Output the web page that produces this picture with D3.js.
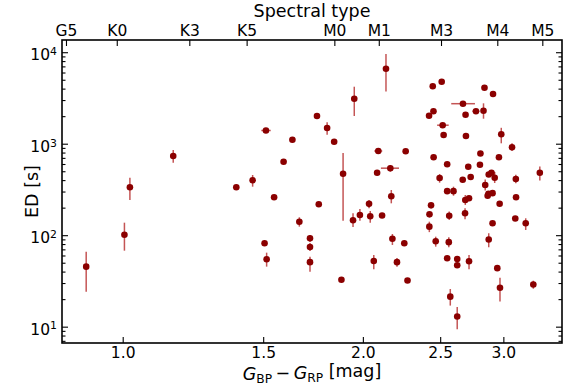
<!DOCTYPE html>
<html><head><meta charset="utf-8">
<script src="https://cdn.jsdelivr.net/npm/d3@7"></script>
<style>body{margin:0;background:#fff} svg{display:block} text{font-family:"DejaVu Sans",sans-serif}</style>
</head><body><svg id="c" width="563" height="389"></svg>
<script>
// Gaia colour BP-RP [mag]
const bpRp=[0.900,1.005,1.021,1.157,1.388,1.455,1.506,1.515,1.512,1.548,1.591,1.632,1.665,1.717,1.717,1.717,1.752,1.761,1.804,1.841,
1.880,1.889,1.944,1.951,1.983,2.036,2.043,2.064,2.084,2.091,2.114,2.138,2.165,2.171,2.178,2.207,2.254,2.263,2.275,
2.447,2.511,2.841,2.912,2.670,2.452,2.421,2.690,2.772,2.833,2.518,2.525,2.693,2.982,3.076,2.453,2.808,2.962,2.551,2.711,2.804,
2.496,2.668,2.730,2.899,2.876,2.926,3.110,3.333,2.847,2.551,2.598,2.867,2.874,2.908,2.688,2.717,3.112,2.968,2.435,2.424,
2.566,2.686,3.105,2.423,3.200,2.908,2.468,2.563,2.876,2.551,2.626,2.626,2.717,2.948,2.971,3.271,2.574,2.626];
// Equivalent duration [s]
const ed=[45.3,101,334,734,334,398,81.6,54.5,1394,260,636,1103,140.5,92.5,74.3,50.7,2008,218,1484,1052,
32.6,470,145.5,3103,166,220,161,52.2,482,832,164,6602,540,266,91.3,50.7,81.6,826,32.0,
4240,4760,4093,3493,2737,2266,2023,2075,2266,2290,1593,1245,1214,1267,913,712,781,712,597,559,588,
422,404,433,482,460,425,411,482,354,303,303,270,284,288,242.5,253,260,221,212,169,
163,174,152,124,135,135,85.8,83.9,89.7,55.9,55.0,46.9,51.8,43.6,26.6,28.9,21.3,12.9];
const edLo=[24.1,67.7,242,620,null,339,null,45.3,1330,null,null,null,124,84.3,67.2,39.9,null,null,1254,null,
null,144,123,2008,144,197,137,42.4,null,790,null,3720,494,223,78.2,45.3,null,null,null,
null,null,null,null,2600,null,null,null,null,1876,null,null,null,1010,832,null,null,null,null,null,null,
375,null,null,null,null,372,369,396,308,null,270,null,null,null,214,null,null,null,null,null,
147,149,null,108,114,null,74.9,73.8,73.8,null,null,null,42.4,null,18.8,26.0,17.0,9.37];
const edHi=[66.0,137,425,853,null,455,null,64.4,1460,null,null,null,157,100.5,82.2,58.2,null,null,1713,null,
null,791,173.5,4198,193,242.5,184,60.8,null,880,null,9557,585,312,103,56.3,null,null,null,
null,null,null,null,2880,null,null,null,null,2763,null,null,null,1492,1010,null,null,null,null,null,null,
466,null,null,null,null,491,458,563,406,null,339,null,null,null,275,null,null,null,null,null,
181,197,null,140.5,153,null,96.3,94.9,105,null,null,null,60.8,null,34.3,31.8,25.8,16.4];
const bpLo=[null,null,null,1.148,null,null,null,null,1.492,null,null,null,null,null,null,null,1.737,null,null,null,
null,null,null,null,null,null,null,null,null,2.067,null,null,2.107,null,null,null,null,null,null,
null,null,null,null,2.581,null,null,null,2.744,null,2.478,null,null,null,null,null,null,null,null,null,null,
null,null,null,null,null,null,null,null,null,null,null,null,null,null,null,null,null,null,null,null,
null,null,null,null,null,null,null,null,null,null,null,null,null,null,null,null,null,null];
const bpHi=[null,null,null,1.166,null,null,null,null,1.533,null,null,null,null,null,null,null,1.767,null,null,null,
null,null,null,null,null,null,null,null,null,2.115,null,null,2.220,null,null,null,null,null,null,
null,null,null,null,2.764,null,null,null,2.800,null,2.562,null,null,null,null,null,null,null,null,null,null,
null,null,null,null,null,null,null,null,null,null,null,null,null,null,null,null,null,null,null,null,
null,null,null,null,null,null,null,null,null,null,null,null,null,null,null,null,null,null];

const xTicks=[1.0,1.5,2.0,2.5,3.0];
const yTicks=[10,100,1000,10000];
const specTypes=["G5","K0","K3","K5","M0","M1","M3","M4","M5"];
const specColors=[0.849,0.983,1.212,1.430,1.842,2.094,2.506,2.948,3.357];

const L=62,R=562,T=40,B=343;
const svg=d3.select("#c");
const x=d3.scaleLog().domain([0.8393,3.5533]).range([L,R]);
const y=d3.scaleLog().domain([6.63,13600]).range([B,T]);

const tickFont=15.5, labFont=17.5;
const minors=[];
for(let e=0;e<5;e++){for(let m=2;m<=9;m++){const v=m*Math.pow(10,e); if(v>=y.domain()[0]&&v<=y.domain()[1]) minors.push(v);}}

function styleAxis(g){g.select(".domain").remove(); g.selectAll(".tick line").attr("stroke","#000").attr("stroke-width",1.1);
  g.selectAll("text").attr("font-size",tickFont).attr("fill","#000").attr("font-family","DejaVu Sans");}

// bottom
const gb=svg.append("g").attr("transform",`translate(0,${B})`)
 .call(d3.axisBottom(x).tickValues(xTicks).tickFormat(d3.format(".1f")).tickSizeInner(-6).tickSizeOuter(0).tickPadding(3.5));
styleAxis(gb);
// top
const gt=svg.append("g").attr("transform",`translate(0,${T})`)
 .call(d3.axisTop(x).tickValues(specColors).tickFormat((d,i)=>specTypes[i]).tickSizeInner(-6).tickSizeOuter(0).tickPadding(4));
styleAxis(gt);
// left major
const gl=svg.append("g").attr("transform",`translate(${L},0)`)
 .call(d3.axisLeft(y).tickValues(yTicks).tickSizeInner(-6).tickSizeOuter(0).tickPadding(5));
styleAxis(gl);
gl.selectAll(".tick text").each(function(d){const t=d3.select(this); t.text(null).attr("dy","0.5em");
  t.append("tspan").text("10"); t.append("tspan").attr("dy","-0.5em").attr("font-size","0.7em").text(Math.round(Math.log10(d)));});
const glm=svg.append("g").attr("transform",`translate(${L},0)`)
 .call(d3.axisLeft(y).tickValues(minors).tickFormat("").tickSizeInner(-3.5).tickSizeOuter(0));
styleAxis(glm);
const gr=svg.append("g").attr("transform",`translate(${R},0)`)
 .call(d3.axisRight(y).tickValues(yTicks).tickFormat("").tickSizeInner(-6).tickSizeOuter(0));
styleAxis(gr);
const grm=svg.append("g").attr("transform",`translate(${R},0)`)
 .call(d3.axisRight(y).tickValues(minors).tickFormat("").tickSizeInner(-3.5).tickSizeOuter(0));
styleAxis(grm);

// frame
svg.append("rect").attr("x",L).attr("y",T).attr("width",R-L).attr("height",B-T).attr("fill","none").attr("stroke","#000").attr("stroke-width",1.6);

// data
const idx=d3.range(bpRp.length);
const plot=svg.append("g");
const errColor="#b01c1c";
plot.selectAll("line.ey").data(idx.filter(i=>edLo[i]!=null)).join("line").attr("class","ey")
 .attr("x1",i=>x(bpRp[i])).attr("x2",i=>x(bpRp[i])).attr("y1",i=>y(edLo[i])).attr("y2",i=>y(edHi[i]))
 .attr("stroke",errColor).attr("stroke-opacity",0.75).attr("stroke-width",1.5);
plot.selectAll("line.ex").data(idx.filter(i=>bpLo[i]!=null)).join("line").attr("class","ex")
 .attr("x1",i=>x(bpLo[i])).attr("x2",i=>x(bpHi[i])).attr("y1",i=>y(ed[i])).attr("y2",i=>y(ed[i]))
 .attr("stroke",errColor).attr("stroke-opacity",0.75).attr("stroke-width",1.5);
plot.selectAll("circle").data(idx).join("circle")
 .attr("cx",i=>x(bpRp[i])).attr("cy",i=>y(ed[i])).attr("r",3.3).attr("fill","#8b0000");

// labels
svg.append("text").attr("x",(L+R)/2).attr("y",17).attr("text-anchor","middle").attr("font-size",labFont).text("Spectral type");
svg.append("text").attr("transform",`translate(38,${(T+B)/2}) rotate(-90)`).attr("text-anchor","middle").attr("font-size",labFont).text("ED [s]");
const xl=svg.append("text").attr("x",(L+R)/2).attr("y",380).attr("text-anchor","middle").attr("font-size",labFont);
xl.append("tspan").attr("font-style","italic").text("G");
xl.append("tspan").attr("font-size","0.7em").attr("dy","0.25em").text("BP");
xl.append("tspan").attr("dy","-0.25em").text("\u2009\u2212\u2009");
xl.append("tspan").attr("font-style","italic").text("G");
xl.append("tspan").attr("font-size","0.7em").attr("dy","0.25em").text("RP");
xl.append("tspan").attr("dy","-0.25em").text(" [mag]");
</script></body></html>
